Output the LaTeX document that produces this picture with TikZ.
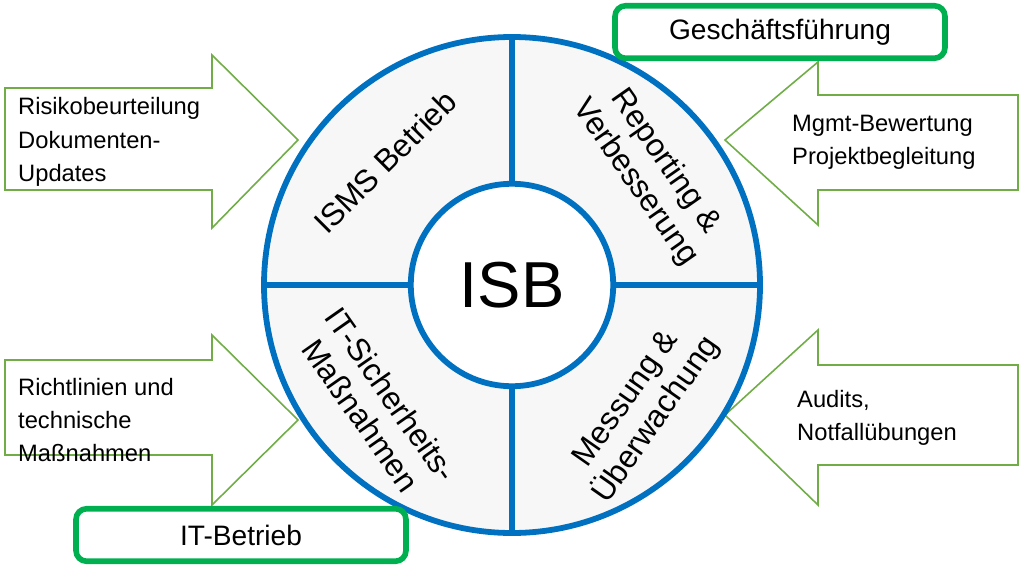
\documentclass[tikz,border=0pt]{standalone}
\usepackage{fontspec}
\setmainfont{Liberation Sans}
\usetikzlibrary{calc,positioning}
\definecolor{isbblue}{RGB}{0,112,192}
\definecolor{isbgreen}{RGB}{0,176,80}
\definecolor{arrgreen}{RGB}{112,173,71}
\tikzset{
  callout/.style={draw=arrgreen,line width=0.9pt,fill=white},
  calltext/.style={align=left,font=\fontsize{13.5}{19}\selectfont,anchor=west},
  sector/.style={align=center,font=\fontsize{18}{21}\selectfont},
  rolebox/.style={draw=isbgreen,line width=3.2pt,rounded corners=6pt,fill=white,font=\fontsize{16}{18}\selectfont,minimum width=6.6cm,minimum height=1.05cm}
}
\begin{document}
\begin{tikzpicture}[x=0.02cm,y=-0.02cm]
\useasboundingbox (0,0) rectangle (1024,571);

% callout arrows
\draw[callout] (5,88) -- (212,88) -- (212,55) -- (298,140) -- (212,228) -- (212,190) -- (5,190) -- cycle;
\draw[callout] (1018,95) -- (818,95) -- (818,62) -- (725,140) -- (818,225) -- (818,190) -- (1018,190) -- cycle;
\draw[callout] (5,360) -- (212,360) -- (212,335) -- (298,420) -- (212,505) -- (212,455) -- (5,455) -- cycle;
\draw[callout] (1018,365) -- (818,365) -- (818,330) -- (725,415) -- (818,505) -- (818,465) -- (1018,465) -- cycle;

\node[calltext] (risk) at (12,142) {Risikobeurteilung\\Dokumenten-\\Updates};
\node[calltext] (mgmt) at (786,142) {Mgmt-Bewertung\\Projektbegleitung};
\node[calltext] (richt) at (12,420) {Richtlinien und\\technische\\Maßnahmen};
\node[calltext] (audit) at (791,418) {Audits,\\Notfallübungen};

% wheel
\coordinate (c) at (512,285);
\draw[isbblue,line width=3.3pt,fill=black!3] (c) circle (248);
\draw[isbblue,line width=3.3pt] (512,37) -- (512,533) (264,285) -- (760,285);
\node[circle,draw=isbblue,line width=3.3pt,fill=white,minimum size=4.05cm,font=\fontsize{37}{40}\selectfont] (isb) at (c) {ISB};

\node[sector,rotate=45] (isms) at (385,162) {ISMS Betrieb};
\node[sector,rotate=-55] (report) at (650,172) {Reporting \&\\Verbesserung};
\node[sector,rotate=-55] (itsec) at (376,405) {IT-Sicherheits-\\Maßnahmen};
\node[sector,rotate=55] (mess) at (642,410) {Messung \&\\Überwachung};

% roles
\node[rolebox] (gf) at (780,32) {Geschäftsführung};
\node[rolebox] (itb) at (241,535) {IT-Betrieb};
\end{tikzpicture}
\end{document}
